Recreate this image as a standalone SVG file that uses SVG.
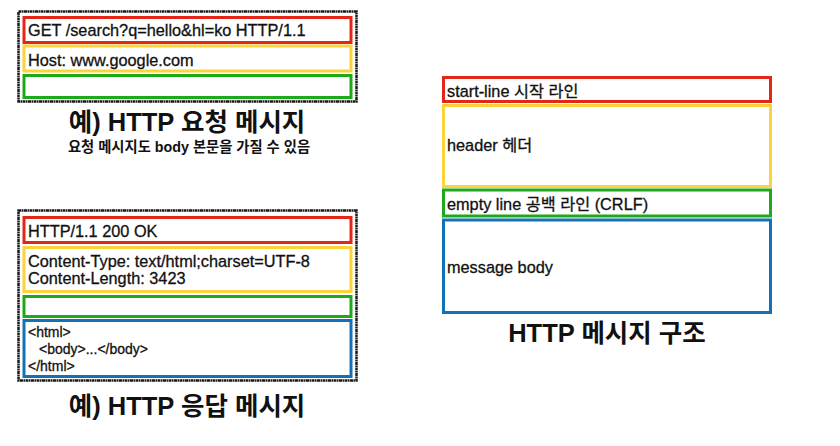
<svg xmlns="http://www.w3.org/2000/svg" width="840" height="446" viewBox="0 0 840 446">
<style>
text{font-family:"Liberation Sans","Noto Sans CJK KR",sans-serif;fill:#111;}
.t{font-size:16.3px;stroke:#111;stroke-width:0.3;}
.s{font-size:14px;stroke:#111;stroke-width:0.3;}
.h{font-size:25.5px;font-weight:bold;}
.sub{font-size:14.3px;font-weight:bold;}
.frame{fill:#fff;stroke:#1a1a1a;stroke-width:2.5;stroke-dasharray:3 0.5 1.5 0.5;}
.r{fill:#fff;stroke:#e42618;stroke-width:3;}
.y{fill:#fff;stroke:#fbd33a;stroke-width:3;}
.g{fill:#fff;stroke:#1ea91b;stroke-width:3;}
.b{fill:#fff;stroke:#1372b6;stroke-width:3;}
</style>
<rect width="840" height="446" fill="#fff"/>
<g id="request">
<rect class="frame" x="18.5" y="11.5" width="338" height="90"/>
<rect class="r" x="24" y="17.5" width="327" height="25"/>
<text class="t" x="28" y="36">GET /search?q=hello&amp;hl=ko HTTP/1.1</text>
<rect class="y" x="24" y="46" width="327" height="25"/>
<text class="t" x="28" y="66">Host: www.google.com</text>
<rect class="g" x="24" y="75.5" width="327" height="22"/>
<text class="h" x="187" y="131" text-anchor="middle">예) HTTP 요청 메시지</text>
<text class="sub" x="189" y="152" text-anchor="middle">요청 메시지도 body 본문을 가질 수 있음</text>
</g>
<g id="response">
<rect class="frame" x="18.5" y="210.5" width="338" height="170"/>
<rect class="r" x="24" y="217.5" width="327" height="25"/>
<text class="t" x="28" y="237">HTTP/1.1 200 OK</text>
<rect class="y" x="24" y="247.5" width="327" height="44"/>
<text class="t" x="28" y="267">Content-Type: text/html;charset=UTF-8</text>
<text class="t" x="28" y="284">Content-Length: 3423</text>
<rect class="g" x="24" y="296.5" width="327" height="20"/>
<rect class="b" x="24" y="320.5" width="327" height="56"/>
<text class="s" x="28" y="337">&lt;html&gt;</text>
<text class="s" x="39" y="354">&lt;body&gt;...&lt;/body&gt;</text>
<text class="s" x="28" y="371">&lt;/html&gt;</text>
<text class="h" x="187" y="415" text-anchor="middle">예) HTTP 응답 메시지</text>
</g>
<g id="structure">
<rect class="r" x="443.5" y="77.5" width="327" height="24"/>
<text class="t" x="447" y="97">start-line 시작 라인</text>
<rect class="y" x="443.5" y="105.5" width="327" height="81"/>
<text class="t" x="447" y="151">header 헤더</text>
<rect class="g" x="443.5" y="190" width="327" height="26"/>
<text class="t" x="447" y="210">empty line 공백 라인 (CRLF)</text>
<rect class="b" x="443.5" y="220" width="327" height="92.5"/>
<text class="t" x="447" y="273">message body</text>
<text class="h" x="607" y="342" text-anchor="middle">HTTP 메시지 구조</text>
</g>
</svg>
